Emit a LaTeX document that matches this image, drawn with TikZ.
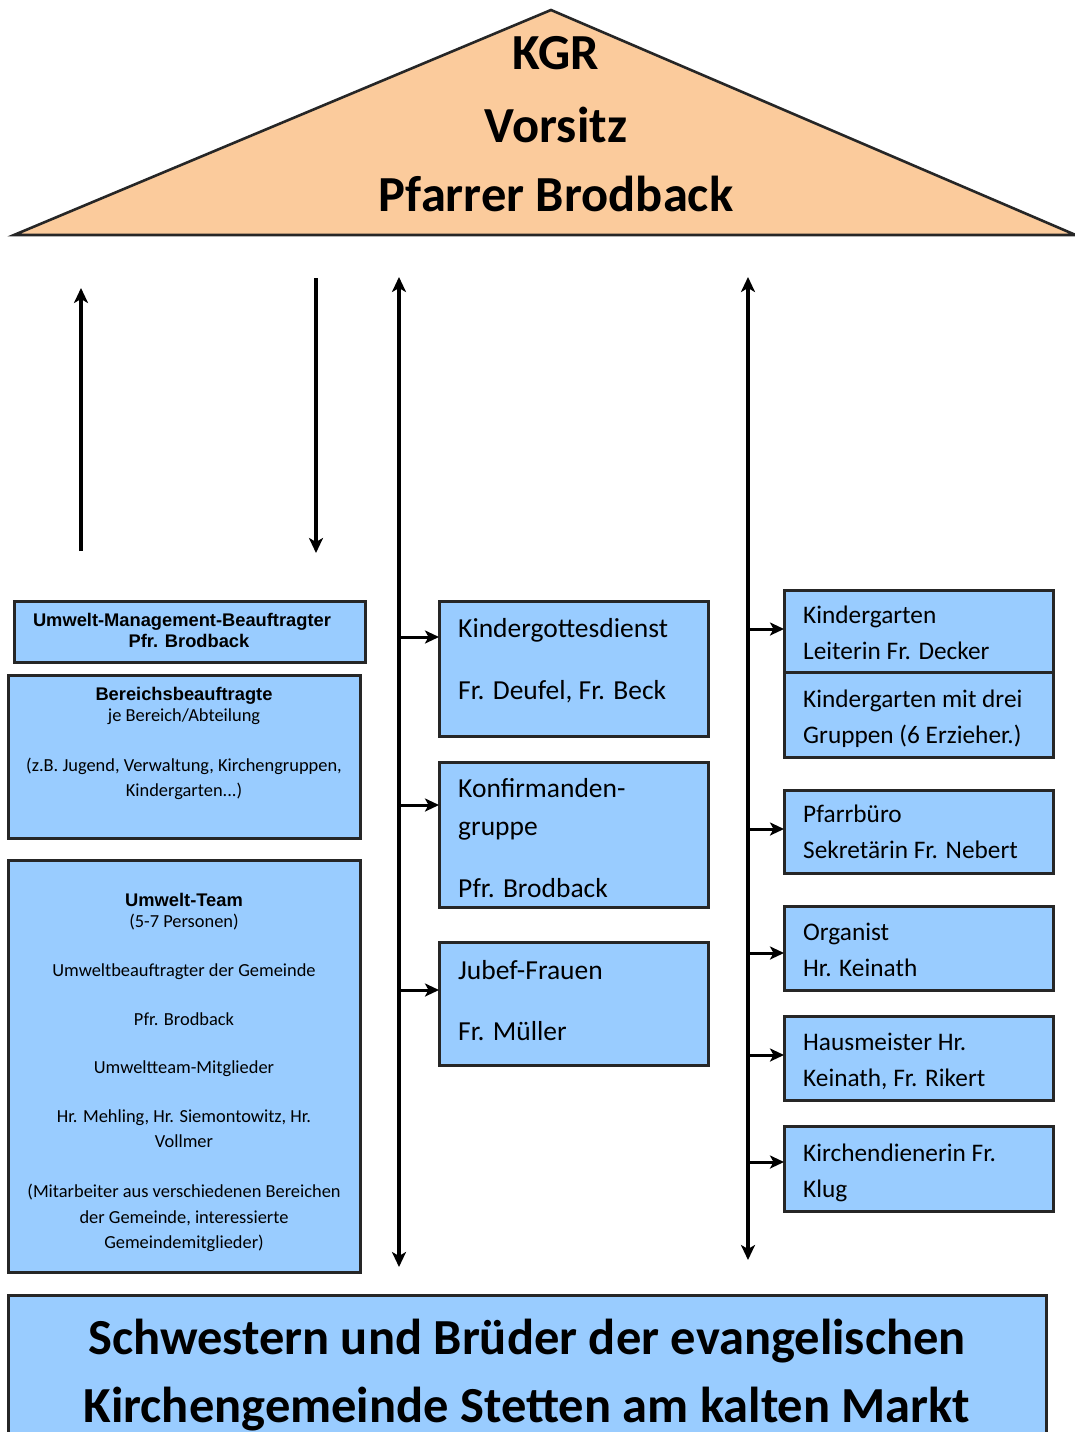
\documentclass[tikz,border=0pt]{standalone}
\usepackage{fontspec}
\setmainfont{Carlito}
\newfontfamily\arialf{Liberation Sans}
\usetikzlibrary{arrows.meta}
\definecolor{boxblue}{RGB}{153,204,255}
\definecolor{roofc}{RGB}{251,203,156}
\begin{document}
\begin{tikzpicture}[x=1pt,y=-1pt,
  box/.style={draw=black!85, line width=3pt, fill=boxblue, anchor=north west, inner sep=0pt, outer sep=0pt},
  arr/.style={line width=3.6pt, -{Stealth[length=15pt,width=14pt,inset=4pt]}},
  harr/.style={line width=3pt, -{Stealth[length=14pt,width=13pt,inset=3.5pt]}},
  darr/.style={line width=3.6pt, {Stealth[length=15pt,width=14pt,inset=4pt]}-{Stealth[length=15pt,width=14pt,inset=4pt]}},
  mid/.style={font=\fontsize{27.5}{32}\selectfont, anchor=base west, inner sep=0pt},
  rgt/.style={font=\fontsize{25.3}{30}\selectfont, anchor=base west, inner sep=0pt},
  sm/.style={font=\fontsize{18.4}{22}\selectfont, anchor=base, inner sep=0pt},
  smb/.style={font=\arialf\bfseries\fontsize{18.3}{22}\selectfont, anchor=base, inner sep=0pt},
  roof/.style={font=\bfseries\fontsize{50.5}{55}\selectfont, anchor=base, inner sep=0pt},
  big/.style={font=\bfseries\fontsize{50.5}{55}\selectfont, anchor=base, inner sep=0pt}
]
\useasboundingbox (0,0) rectangle (1075,1432);
\fill[white] (0,0) rectangle (1075,1432);

% roof
\filldraw[fill=roofc, draw=black!85, line width=2.6pt, line join=miter] (14,235) -- (551,10) -- (1085,239) -- (1085,235) -- cycle;
\node[roof] (kgr) at (556,69) {KGR};
\node[roof] (vors) at (556,142) {Vorsitz};
\node[roof] (pfb) at (556,211) {Pfarrer Brodback};

% vertical arrows
\coordinate (ua1) at (81,551);
\coordinate (ua2) at (81,288);
\coordinate (da1) at (316,278);
\coordinate (da2) at (316,553);
\coordinate (b1t) at (399,277);
\coordinate (b1b) at (399,1267);
\coordinate (b2t) at (748,277);
\coordinate (b2b) at (748,1260);
\draw[arr] (ua1) -- (ua2);
\draw[arr] (da1) -- (da2);
\draw[darr] (b1b) -- (b1t);
\draw[darr] (b2b) -- (b2t);

% left boxes
\node[box, minimum width=351pt, minimum height=61pt] (umb) at (14,601) {};
\node[smb] (umb1) at (182,626) {Umwelt-Management-Beauftragter};
\node[smb] (umb2) at (189,647) {Pfr. Brodback};

\node[box, minimum width=352pt, minimum height=163pt] (ber) at (8,675) {};
\node[smb] (ber1) at (184,700) {Bereichsbeauftragte};
\node[sm] (ber2) at (184,721) {je Bereich/Abteilung};
\node[sm] (ber3) at (184,771) {(z.B. Jugend, Verwaltung, Kirchengruppen,};
\node[sm] (ber4) at (184,796) {Kindergarten...)};

\node[box, minimum width=352pt, minimum height=412pt] (team) at (8,860) {};
\node[smb] (tm1) at (184,906) {Umwelt-Team};
\node[sm] (tm2) at (184,927) {(5-7 Personen)};
\node[sm] (tm3) at (184,976) {Umweltbeauftragter der Gemeinde};
\node[sm] (tm4) at (184,1025) {Pfr. Brodback};
\node[sm] (tm5) at (184,1073) {Umweltteam-Mitglieder};
\node[sm] (tm6) at (184,1122) {Hr. Mehling, Hr. Siemontowitz, Hr.};
\node[sm] (tm7) at (184,1147) {Vollmer};
\node[sm] (tm8) at (184,1197) {(Mitarbeiter aus verschiedenen Bereichen};
\node[sm] (tm9) at (184,1223) {der Gemeinde, interessierte};
\node[sm] (tm10) at (184,1248) {Gemeindemitglieder)};

% middle boxes
\node[box, minimum width=269pt, minimum height=135pt] (kgd) at (439,601) {};
\node[mid] (kgd1) at (458,637) {Kindergottesdienst};
\node[mid] (kgd2) at (458,699) {Fr. Deufel, Fr. Beck};

\node[box, minimum width=269pt, minimum height=145pt] (konf) at (439,762) {};
\node[mid] (konf1) at (458,797) {Konfirmanden-};
\node[mid] (konf2) at (458,835) {gruppe};
\node[mid] (konf3) at (458,897) {Pfr. Brodback};

\node[box, minimum width=269pt, minimum height=123pt] (jub) at (439,942) {};
\node[mid] (jub1) at (458,979) {Jubef-Frauen};
\node[mid] (jub2) at (458,1040) {Fr. Müller};

\coordinate (m1) at (399,637);
\coordinate (m2) at (399,805);
\coordinate (m3) at (399,990);
\draw[harr] (m1) -- (m1 -| kgd.west);
\draw[harr] (m2) -- (m2 -| konf.west);
\draw[harr] (m3) -- (m3 -| jub.west);

% right boxes
\node[box, minimum width=269pt, minimum height=82pt] (kg) at (784,590) {};
\node[rgt] (kg1) at (803,623) {Kindergarten};
\node[rgt] (kg2) at (803,659) {Leiterin Fr. Decker};
\node[box, minimum width=269pt, minimum height=85pt] (kgm) at (784,672) {};
\node[rgt] (kgm1) at (803,707) {Kindergarten mit drei};
\node[rgt] (kgm2) at (803,743) {Gruppen (6 Erzieher.)};

\node[box, minimum width=269pt, minimum height=83pt] (pb) at (784,790) {};
\node[rgt] (pb1) at (803,822) {Pfarrbüro};
\node[rgt] (pb2) at (803,858) {Sekretärin Fr. Nebert};

\node[box, minimum width=269pt, minimum height=84pt] (org) at (784,906) {};
\node[rgt] (org1) at (803,940) {Organist};
\node[rgt] (org2) at (803,976) {Hr. Keinath};

\node[box, minimum width=269pt, minimum height=84pt] (hm) at (784,1016) {};
\node[rgt] (hm1) at (803,1050) {Hausmeister Hr.};
\node[rgt] (hm2) at (803,1086) {Keinath, Fr. Rikert};

\node[box, minimum width=269pt, minimum height=85pt] (kd) at (784,1126) {};
\node[rgt] (kd1) at (803,1161) {Kirchendienerin Fr.};
\node[rgt] (kd2) at (803,1197) {Klug};

\coordinate (r1) at (748,629);
\coordinate (r2) at (748,829);
\coordinate (r3) at (748,953);
\coordinate (r4) at (748,1055);
\coordinate (r5) at (748,1162);
\draw[harr] (r1) -- (r1 -| kg.west);
\draw[harr] (r2) -- (r2 -| pb.west);
\draw[harr] (r3) -- (r3 -| org.west);
\draw[harr] (r4) -- (r4 -| hm.west);
\draw[harr] (r5) -- (r5 -| kd.west);

% bottom
\node[box, minimum width=1038pt, minimum height=150pt] (base) at (8,1295) {};
\node[big] (bt1) at (527,1354) {Schwestern und Brüder der evangelischen};
\node[big] (bt2) at (527,1422) {Kirchengemeinde Stetten am kalten Markt};
\end{tikzpicture}
\end{document}
